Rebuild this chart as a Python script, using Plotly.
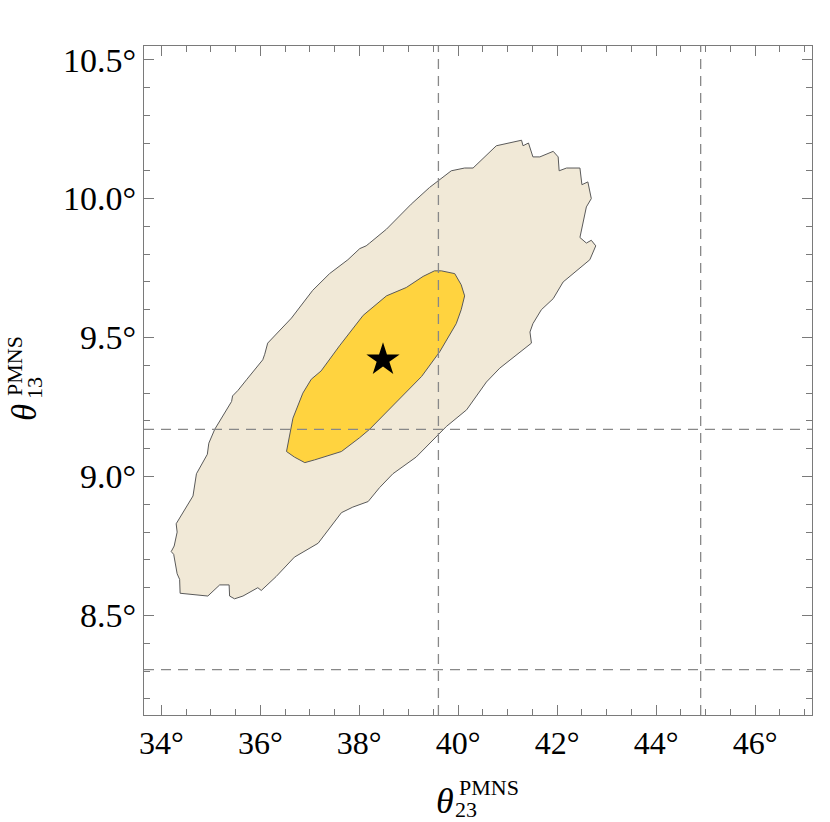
import plotly.graph_objects as go

# outer (beige) confidence region
outer_t23 = [34.38, 34.37, 34.32, 34.25, 34.20, 34.26, 34.32, 34.30, 34.64, 34.71,
             34.93, 34.96, 35.08, 35.42, 35.44, 35.55, 35.73, 36.05, 36.09, 36.15,
             36.63, 36.93, 37.06, 37.40, 37.54, 37.77, 38.01, 38.14, 38.21, 38.55,
             39.05, 39.42, 39.86, 40.13, 40.30, 40.77, 41.28, 41.31, 41.42, 41.51,
             41.65, 41.92, 42.02, 42.04, 42.19, 42.46, 42.50, 42.62, 42.69, 42.59,
             42.46, 42.59, 42.69, 42.78, 42.66, 42.12, 41.92, 41.68, 41.51, 41.45,
             41.48, 41.34, 40.84, 40.57, 40.37, 40.17, 39.76, 39.49, 39.15, 38.68,
             38.41, 38.18, 37.87, 37.64, 37.17, 36.69, 36.32, 36.02, 35.95, 35.65,
             35.48, 35.38, 35.37, 35.18, 34.94, 34.38]
outer_t13 = [8.58, 8.63, 8.65, 8.72, 8.73, 8.75, 8.80, 8.83, 8.93, 9.01,
             9.08, 9.12, 9.17, 9.27, 9.29, 9.31, 9.35, 9.42, 9.44, 9.48,
             9.57, 9.64, 9.67, 9.73, 9.75, 9.78, 9.82, 9.83, 9.84, 9.89,
             9.98, 10.04, 10.10, 10.11, 10.11, 10.19, 10.21, 10.19, 10.20, 10.15,
             10.15, 10.17, 10.15, 10.10, 10.11, 10.11, 10.05, 10.06, 10.00, 9.97,
             9.86, 9.84, 9.85, 9.83, 9.78, 9.70, 9.64, 9.60, 9.55, 9.52,
             9.48, 9.46, 9.39, 9.34, 9.29, 9.24, 9.18, 9.13, 9.07, 9.01,
             8.96, 8.91, 8.89, 8.87, 8.76, 8.71, 8.64, 8.59, 8.60, 8.57,
             8.56, 8.57, 8.61, 8.61, 8.57, 8.58]

# inner (gold) region
inner_t23 = [36.53, 36.66, 36.86, 37.03, 37.23, 37.60, 38.08, 38.55, 38.95, 39.29,
             39.52, 39.66, 39.93, 40.06, 40.13, 40.06, 39.96, 39.63, 39.26, 38.61,
             38.21, 38.01, 37.64, 37.10, 36.90, 36.69, 36.53]
inner_t13 = [9.09, 9.21, 9.30, 9.35, 9.38, 9.47, 9.58, 9.65, 9.68, 9.72,
             9.74, 9.74, 9.73, 9.69, 9.65, 9.60, 9.55, 9.45, 9.36, 9.24,
             9.17, 9.14, 9.09, 9.06, 9.05, 9.07, 9.09]

best_fit = (38.48, 9.42)

# dashed reference lines
vlines_t23 = [39.6, 44.9]
hlines_t13 = [9.17, 8.305]

x_ticks = [34, 36, 38, 40, 42, 44, 46]
y_ticks = [8.5, 9.0, 9.5, 10.0, 10.5]

FONT = "Liberation Serif"
AXIS_GRAY = "#7a7a7a"

fig = go.Figure()

fig.add_trace(go.Scatter(
    x=outer_t23, y=outer_t13, mode="lines", fill="toself",
    fillcolor="#F1E9D7", line=dict(color="#5a5a5a", width=1),
    hoverinfo="skip", showlegend=False
))
fig.add_trace(go.Scatter(
    x=inner_t23, y=inner_t13, mode="lines", fill="toself",
    fillcolor="#FFD33F", line=dict(color="#5a5a5a", width=1),
    hoverinfo="skip", showlegend=False
))
fig.add_trace(go.Scatter(
    x=[best_fit[0]], y=[best_fit[1]], mode="markers",
    marker=dict(symbol="star", size=25, color="black", line=dict(width=0)),
    hoverinfo="skip", showlegend=False
))

for v in vlines_t23:
    fig.add_vline(x=v, line=dict(color="#888888", width=1.3, dash="10px,7px"))
for h in hlines_t13:
    fig.add_hline(y=h, line=dict(color="#888888", width=1.3, dash="10px,7px"))

axis_common = dict(
    showgrid=False, zeroline=False,
    showline=True, linecolor=AXIS_GRAY, linewidth=1, mirror="ticks",
    ticks="inside", ticklen=10, tickcolor=AXIS_GRAY, tickwidth=1,
)

fig.update_xaxes(
    range=[33.65, 47.15],
    tickvals=x_ticks, ticktext=[f"{t}°" for t in x_ticks],
    tickfont=dict(family=FONT, size=32, color="black"),
    minor=dict(tick0=34, dtick=0.5, ticks="inside", ticklen=6, tickcolor=AXIS_GRAY),
    ticklabelstandoff=0,
    **axis_common
)
fig.update_yaxes(
    range=[8.142, 10.549],
    tickvals=y_ticks, ticktext=[f"{t:.1f}°" for t in y_ticks],
    tickfont=dict(family=FONT, size=34, color="black"),
    minor=dict(tick0=8.5, dtick=0.1, ticks="inside", ticklen=6, tickcolor=AXIS_GRAY),
    ticklabelstandoff=0,
    **axis_common
)

W, H = 830, 822
L, R, T, B = 144, 18, 46, 107
pw, ph = W - L - R, H - T - B


def px(xp):
    return (xp - L) / pw


def py(yp):
    return (H - B - yp) / ph


# axis titles built from pieces so that sub- and superscript stack
title_parts = [
    # x title
    dict(text="<i>θ</i>", x=px(445), y=py(801), size=36, angle=0, xa="center"),
    dict(text="PMNS", x=px(457), y=py(787), size=22, angle=0, xa="left"),
    dict(text="23", x=px(453), y=py(810), size=22, angle=0, xa="left"),
    # y title
    dict(text="<i>θ</i>", x=px(24), y=py(413), size=35, angle=-90, xa="center"),
    dict(text="PMNS", x=px(14), y=py(366), size=22, angle=-90, xa="center"),
    dict(text="13", x=px(35), y=py(388), size=22, angle=-90, xa="center"),
]
for p in title_parts:
    fig.add_annotation(
        text=p["text"], xref="paper", yref="paper", x=p["x"], y=p["y"],
        xanchor=p["xa"], yanchor="middle", textangle=p["angle"],
        showarrow=False, font=dict(family=FONT, size=p["size"], color="black")
    )

fig.update_layout(
    width=W, height=H,
    margin=dict(l=L, r=R, t=T, b=B),
    plot_bgcolor="white", paper_bgcolor="white",
    showlegend=False,
)

# drop the default page margin so the figure sits at the window's corner
fig.write_html(
    "out.html",
    config={"displayModeBar": False},
    post_script="document.body.style.margin = '0';",
)
